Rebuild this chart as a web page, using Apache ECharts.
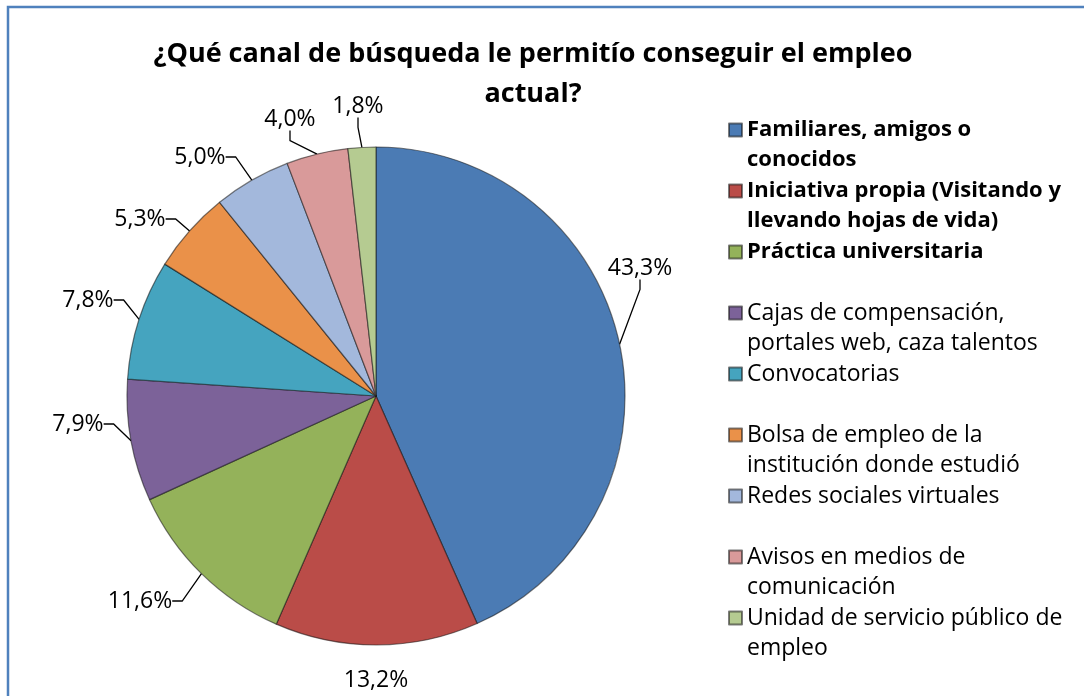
<!DOCTYPE html>
<html>
<head>
<meta charset="utf-8">
<script src="https://cdn.jsdelivr.net/npm/echarts@6/dist/echarts.min.js"></script>
<style>
  html, body { margin: 0; padding: 0; background: #fff; }
  #chart { width: 1084px; height: 696px; }
</style>
</head>
<body>
<div id="chart"></div>
<script>
// Channel categories (full names) and how the legend breaks them into lines
const categories = [
    'Familiares, amigos o conocidos',
    'Iniciativa propia (Visitando y llevando hojas de vida)',
    'Práctica universitaria',
    'Cajas de compensación, portales web, caza talentos',
    'Convocatorias',
    'Bolsa de empleo de la institución donde estudió',
    'Redes sociales virtuales',
    'Avisos en medios de comunicación',
    'Unidad de servicio público de empleo'
];
const legendLines = [
    ['Familiares, amigos o', 'conocidos'],
    ['Iniciativa propia (Visitando y', 'llevando hojas de vida)'],
    ['Práctica universitaria', ''],
    ['Cajas de compensación,', 'portales web, caza talentos'],
    ['Convocatorias', ''],
    ['Bolsa de empleo de la', 'institución donde estudió'],
    ['Redes sociales virtuales', ''],
    ['Avisos en medios de', 'comunicación'],
    ['Unidad de servicio público de', 'empleo']
];
// share of respondents, %
const percentages = [43.3, 13.2, 11.6, 7.9, 7.8, 5.3, 5.0, 4.0, 1.8];
// first three legend entries are bold in the original
const boldLegend = [true, true, true, false, false, false, false, false, false];

const colors = ['#4B7BB4', '#BA4C48', '#94B25A', '#7C6299', '#45A4BF',
    '#EA9149', '#A3B8DC', '#D99A9A', '#B5CB91'];

// where the original (Excel) put each percentage label, centre of the text
const labelAnchors = [
    [640, 268], [376, 680], [140, 601], [78, 424], [88, 300],
    [140, 219], [200, 157], [290, 119], [358, 106]
];

const chart = echarts.init(document.getElementById('chart'));

const option = {
    backgroundColor: '#fff',
    color: colors,
    title: {
        text: '¿Qué canal de búsqueda le permitío conseguir el empleo\nactual?',
        left: 528,
        top: 29,
        textAlign: 'center',
        textStyle: {
            fontFamily: 'Open Sans',
            fontWeight: 'bold',
            fontSize: 27,
            lineHeight: 40,
            color: '#000'
        }
    },
    legend: {
        orient: 'vertical',
        left: 728,
        top: 85,
        padding: 0,
        itemGap: -29,
        itemWidth: 13,
        itemHeight: 13,
        icon: 'rect',
        data: categories.map((name, i) => ({
            name: name,
            textStyle: boldLegend[i]
                ? { fontWeight: 'bold', fontSize: 22 }
                : { fontWeight: 'normal', fontSize: 23 }
        })),
        // blank first line so the icon sits beside the first text line
        formatter: (name) => '\n' + legendLines[categories.indexOf(name)].join('\n'),
        textStyle: {
            fontFamily: 'Open Sans',
            fontSize: 23,
            lineHeight: 30,
            color: '#000'
        }
    },
    graphic: [{
        type: 'rect',
        z: -1,
        shape: { x: 8, y: 7, width: 1200, height: 900 },
        style: { fill: 'none', stroke: '#4F81BD', lineWidth: 2.5 }
    }],
    series: [{
        type: 'pie',
        center: [376, 396],
        radius: 249,
        startAngle: 90,
        clockwise: true,
        avoidLabelOverlap: false,
        data: categories.map((name, i) => ({
            name: name,
            value: percentages[i],
            labelLine: { show: i !== 1 }
        })),
        itemStyle: {
            borderColor: 'rgba(20,20,20,0.55)',
            borderWidth: 1.2
        },
        label: {
            position: 'outside',
            formatter: (p) => p.value.toFixed(1).replace('.', ',') + '%',
            fontFamily: 'Open Sans',
            fontSize: 23,
            color: '#000'
        },
        labelLine: {
            length: 14,
            length2: 10,
            lineStyle: { color: '#000', width: 1.3 }
        },
        labelLayout: (p) => ({
            x: labelAnchors[p.dataIndex][0],
            y: labelAnchors[p.dataIndex][1],
            align: 'center',
            verticalAlign: 'middle'
        }),
        emphasis: { disabled: true }
    }]
};

chart.setOption(option);
</script>
</body>
</html>
